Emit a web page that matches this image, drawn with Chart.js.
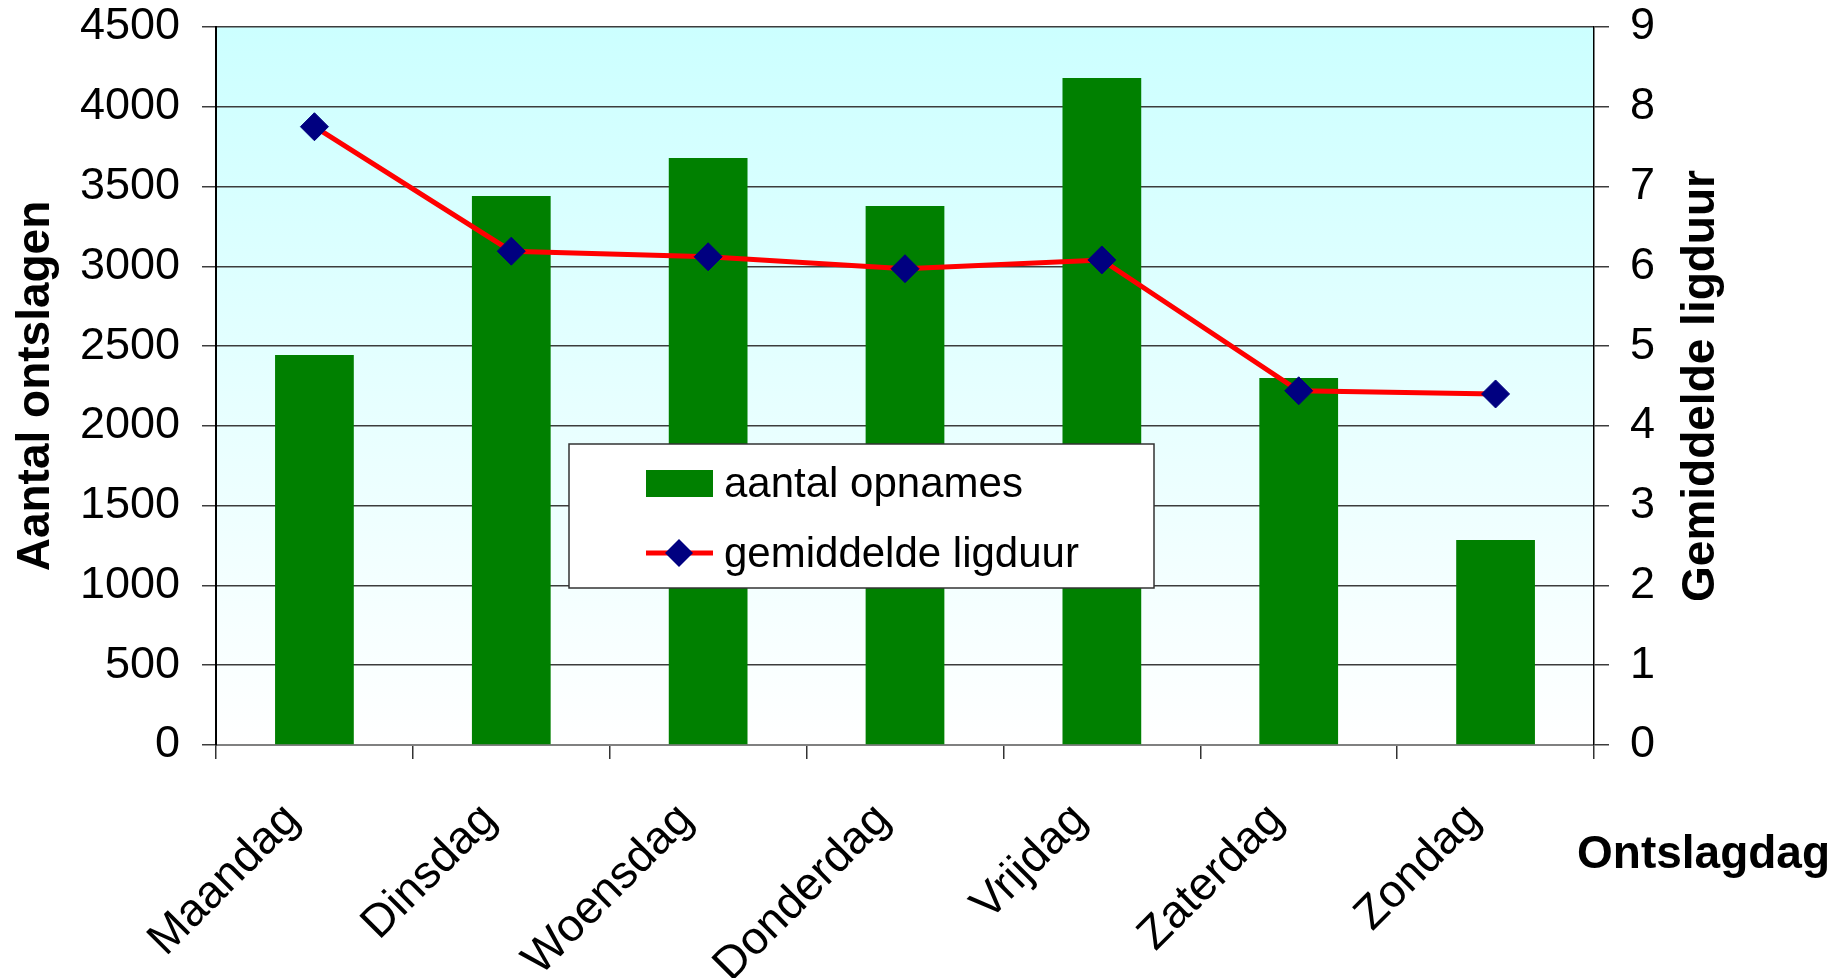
<!DOCTYPE html>
<html>
<head>
<meta charset="utf-8">
<script src="https://cdn.jsdelivr.net/npm/chart.js@4.4.1/dist/chart.umd.min.js"></script>
<style>
  html, body { margin: 0; padding: 0; background: #ffffff; overflow: hidden; }
  #wrap { width: 1845px; height: 978px; position: relative; }
  canvas { display: block; }
</style>
</head>
<body>
<div id="wrap"><canvas id="chart" width="1845" height="978"></canvas></div>
<script>
// Weekdays of discharge
const days = ['Maandag', 'Dinsdag', 'Woensdag', 'Donderdag', 'Vrijdag', 'Zaterdag', 'Zondag'];
// Number of admissions per discharge day (left axis)
const opnames = [2444, 3441, 3679, 3378, 4180, 2300, 1285];
// Mean length of stay in days (right axis)
const ligduur = [7.75, 6.19, 6.12, 5.97, 6.08, 4.44, 4.40];
// Series names
const seriesNames = ['aantal opnames', 'gemiddelde ligduur'];
// Axis titles
const leftTitle = 'Aantal ontslagen';
const rightTitle = 'Gemiddelde ligduur';
const xTitle = 'Ontslagdag';
// Axis ranges
const leftMax = 4500, leftStep = 500;
const rightMax = 9, rightStep = 1;

const FONT = "'Liberation Sans', Arial, Helvetica, sans-serif";
const BAR_GREEN = '#008000';
const LINE_RED = '#ff0000';
const MARKER_NAVY = '#000080';

// Light cyan to white gradient behind the plot area
const plotBackground = {
  id: 'plotBackground',
  beforeDraw(chart) {
    const { ctx, chartArea: a } = chart;
    const g = ctx.createLinearGradient(0, a.top, 0, a.bottom);
    g.addColorStop(0, '#ccffff');
    g.addColorStop(1, '#ffffff');
    ctx.save();
    ctx.fillStyle = g;
    ctx.fillRect(a.left, a.top, a.right - a.left, a.bottom - a.top);
    ctx.restore();
  }
};

// Axis titles: both vertical titles read bottom-to-top
const axisTitles = {
  id: 'axisTitles',
  afterDraw(chart) {
    const { ctx, chartArea: a } = chart;
    const midY = (a.top + a.bottom) / 2;
    ctx.save();
    ctx.fillStyle = '#000000';
    ctx.font = 'bold 46px ' + FONT;
    ctx.textAlign = 'center';
    ctx.textBaseline = 'alphabetic';

    ctx.save();
    ctx.translate(49, midY);
    ctx.rotate(-Math.PI / 2);
    ctx.fillText(leftTitle, 0, 0);
    ctx.restore();

    ctx.save();
    ctx.translate(1714, midY);
    ctx.rotate(-Math.PI / 2);
    ctx.fillText(rightTitle, 0, 0);
    ctx.restore();

    ctx.textAlign = 'left';
    ctx.fillText(xTitle, 1577, 868);
    ctx.restore();
  }
};

// Boxed legend floating inside the plot area
const boxLegend = {
  id: 'boxLegend',
  afterDatasetsDraw(chart) {
    const { ctx } = chart;
    const bars = chart.data.datasets.find(d => d.type === 'bar');
    const line = chart.data.datasets.find(d => d.type === 'line');
    const x = 569, y = 444, w = 585, h = 144;
    ctx.save();
    ctx.fillStyle = '#ffffff';
    ctx.fillRect(x, y, w, h);
    ctx.strokeStyle = '#333333';
    ctx.lineWidth = 1.5;
    ctx.strokeRect(x, y, w, h);

    ctx.font = '42px ' + FONT;
    ctx.textBaseline = 'alphabetic';
    ctx.textAlign = 'left';

    // bar swatch
    ctx.fillStyle = bars.backgroundColor;
    ctx.fillRect(646, 470, 67, 27);
    ctx.fillStyle = '#000000';
    ctx.fillText(bars.label, 724, 497);

    // line + diamond marker
    const cy = 553;
    ctx.strokeStyle = line.borderColor;
    ctx.lineWidth = 5;
    ctx.beginPath();
    ctx.moveTo(646, cy);
    ctx.lineTo(713, cy);
    ctx.stroke();
    ctx.fillStyle = line.pointBackgroundColor;
    ctx.beginPath();
    ctx.moveTo(679, cy - 14);
    ctx.lineTo(693, cy);
    ctx.lineTo(679, cy + 14);
    ctx.lineTo(665, cy);
    ctx.closePath();
    ctx.fill();
    ctx.fillStyle = '#000000';
    ctx.fillText(line.label, 724, 567);
    ctx.restore();
  }
};

// Fixed axis sizes, without the extra room Chart.js reserves for end labels
function fixWidth(w) {
  return function (scale) {
    scale.width = w;
    scale.paddingTop = 0;
    scale.paddingBottom = 0;
  };
}

new Chart(document.getElementById('chart'), {
  type: 'bar',
  data: {
    labels: days,
    datasets: [
      {
        type: 'line',
        label: seriesNames[1],
        data: ligduur,
        yAxisID: 'y1',
        order: 0,
        borderColor: LINE_RED,
        borderWidth: 5,
        tension: 0,
        fill: false,
        pointStyle: 'rectRot',
        pointRadius: 14,
        pointBackgroundColor: MARKER_NAVY,
        pointBorderColor: MARKER_NAVY,
        pointBorderWidth: 1
      },
      {
        type: 'bar',
        label: seriesNames[0],
        data: opnames,
        yAxisID: 'y',
        order: 1,
        backgroundColor: BAR_GREEN,
        borderWidth: 0,
        categoryPercentage: 1.0,
        barPercentage: 0.4
      }
    ]
  },
  options: {
    responsive: false,
    animation: false,
    devicePixelRatio: 1,
    layout: { padding: { top: 27, left: 0, right: 0, bottom: 0 } },
    plugins: {
      legend: { display: false },
      tooltip: { enabled: false },
      title: { display: false }
    },
    scales: {
      x: {
        offset: true,
        afterFit(scale) { scale.height = 233; },
        grid: {
          offset: true,
          drawOnChartArea: false,
          drawTicks: true,
          tickLength: 14,
          color: '#333333',
          lineWidth: 1.5
        },
        border: { display: true, color: '#808080', width: 2 },
        ticks: {
          autoSkip: false,
          minRotation: 45,
          maxRotation: 45,
          padding: 34,
          labelOffset: -22,
          color: '#000000',
          font: { family: FONT, size: 46 }
        }
      },
      y: {
        position: 'left',
        min: 0,
        max: leftMax,
        afterFit: fixWidth(216),
        grid: {
          drawOnChartArea: true,
          tickLength: 14,
          color: '#3c3c3c',
          lineWidth: 1.5
        },
        border: { display: true, color: '#000000', width: 2 },
        ticks: {
          stepSize: leftStep,
          padding: 22,
          color: '#000000',
          font: { family: FONT, size: 45 },
          callback: (v) => String(v)
        }
      },
      y1: {
        position: 'right',
        min: 0,
        max: rightMax,
        afterFit: fixWidth(251),
        grid: {
          drawOnChartArea: false,
          tickLength: 15,
          color: '#3c3c3c',
          lineWidth: 1.5
        },
        border: { display: true, color: '#000000', width: 1.5 },
        ticks: {
          stepSize: rightStep,
          padding: 21,
          color: '#000000',
          font: { family: FONT, size: 45 },
          callback: (v) => String(v)
        }
      }
    }
  },
  plugins: [plotBackground, axisTitles, boxLegend]
});
</script>
</body>
</html>
